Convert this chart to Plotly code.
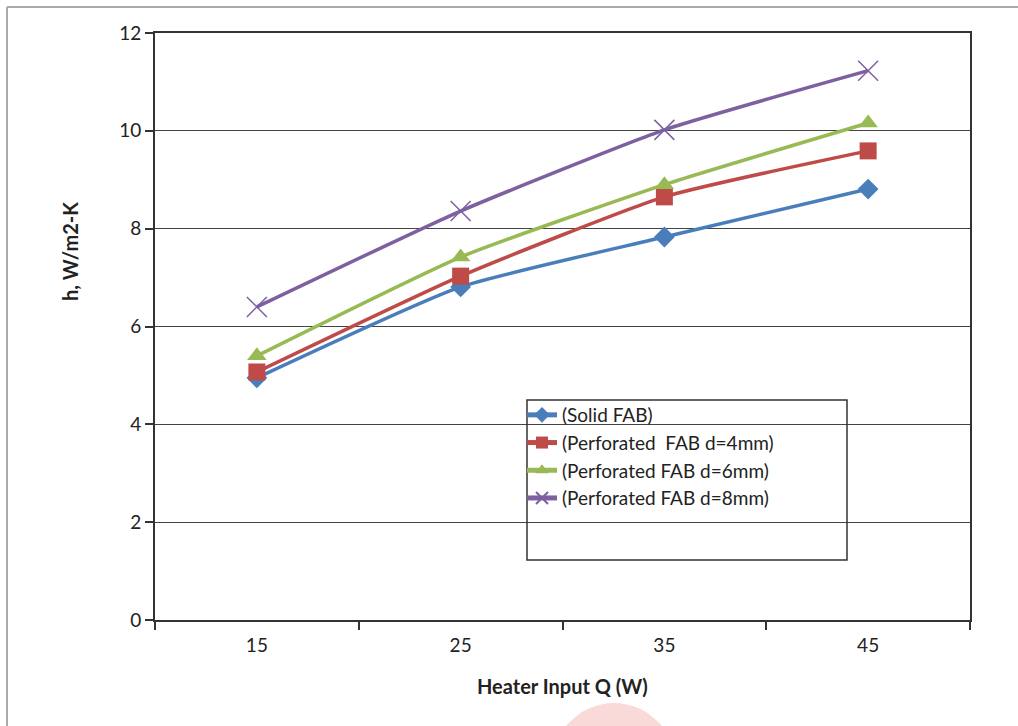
import plotly.graph_objects as go

heater_input = ["15", "25", "35", "45"]
solid_fab = [4.95, 6.81, 7.83, 8.81]
perf_d4 = [5.07, 7.03, 8.65, 9.59]
perf_d6 = [5.40, 7.42, 8.90, 10.16]
perf_d8 = [6.40, 8.36, 10.02, 11.23]

series_names = [
    "(Solid FAB)",
    "(Perforated  FAB d=4mm)",
    "(Perforated FAB d=6mm)",
    "(Perforated FAB d=8mm)",
]
y_ticks = [0, 2, 4, 6, 8, 10, 12]
x_title = "Heater Input Q (W)"
y_title = "h, W/m2-K"

W, H = 1018, 726
L, R, T, B = 155, 970, 33, 620

def px(x):
    return (x - L) / (R - L)

def py(y):
    return (B - y) / (B - T)

fig = go.Figure()
styles = [
    (solid_fab, "#4A7EBB", dict(symbol="diamond", size=16)),
    (perf_d4, "#BE4B48", dict(symbol="square", size=17)),
    (perf_d6, "#98B954", dict(symbol="triangle-up", size=17)),
    (perf_d8, "#7D60A0", dict(symbol="x-thin-open", size=20, line=dict(width=1.5, color="#8B70AE"))),
]
for (vals, color, mk), name in zip(styles, series_names):
    m = dict(color=color, **mk)
    fig.add_trace(go.Scatter(
        x=heater_input, y=vals, name=name, mode="lines+markers",
        line=dict(color=color, width=3.5, shape="spline", smoothing=0.5),
        marker=m,
    ))

font = "Lato, 'Open Sans', sans-serif"
fig.update_layout(
    width=W, height=H,
    margin=dict(l=L, r=W - R, t=T, b=H - B),
    paper_bgcolor="white", plot_bgcolor="white",
    font=dict(family=font, size=20, color="#222"),
    showlegend=True,
    legend=dict(
        x=px(522), y=py(396), xanchor="left", yanchor="top",
        bgcolor="rgba(0,0,0,0)", borderwidth=0,
        font=dict(size=19, color="#222"), tracegroupgap=0, itemwidth=30,
        itemsizing="constant",
    ),
    xaxis=dict(
        type="category", range=[-0.5, 3.5], tickson="boundaries",
        ticks="outside", ticklen=8, tickwidth=1.5, tickcolor="#333",
        showline=True, linecolor="#333", linewidth=2, mirror=True,
        showgrid=False, zeroline=False,
        tickfont=dict(size=19), ticklabelstandoff=7,
    ),
    yaxis=dict(
        range=[0, 12], tickvals=y_ticks,
        ticks="outside", ticklen=8, tickwidth=1.5, tickcolor="#333",
        showline=True, linecolor="#333", linewidth=2, mirror=True,
        showgrid=True, gridcolor="#444", gridwidth=1, zeroline=False,
        tickfont=dict(size=19),
    ),
    annotations=[
        dict(text=f"<b>{x_title}</b>", xref="paper", yref="paper",
             x=px(562), y=py(686), xanchor="center", yanchor="middle",
             showarrow=False, font=dict(size=20, color="#222")),
        dict(text=f"<b>{y_title}</b>", xref="paper", yref="paper",
             x=px(70), y=py(252), xanchor="center", yanchor="middle",
             textangle=-90, showarrow=False, font=dict(size=20, color="#222")),
    ],
    shapes=[
        dict(type="rect", xref="paper", yref="paper",
             x0=px(527), x1=px(847), y0=py(560), y1=py(400),
             line=dict(color="#333", width=1.5), fillcolor="rgba(0,0,0,0)", layer="above"),
        dict(type="line", xref="paper", yref="paper",
             x0=px(7), x1=px(1018), y0=py(7), y1=py(7),
             line=dict(color="#AAA", width=2)),
        dict(type="line", xref="paper", yref="paper",
             x0=px(7), x1=px(7), y0=py(7), y1=py(726),
             line=dict(color="#AAA", width=2)),
        dict(type="circle", xref="paper", yref="paper",
             x0=px(548), x1=px(680), y0=py(703), y1=py(850),
             line=dict(width=0), fillcolor="rgba(245,170,170,0.45)", layer="below"),
    ],
)

fig.write_html("out.html")
